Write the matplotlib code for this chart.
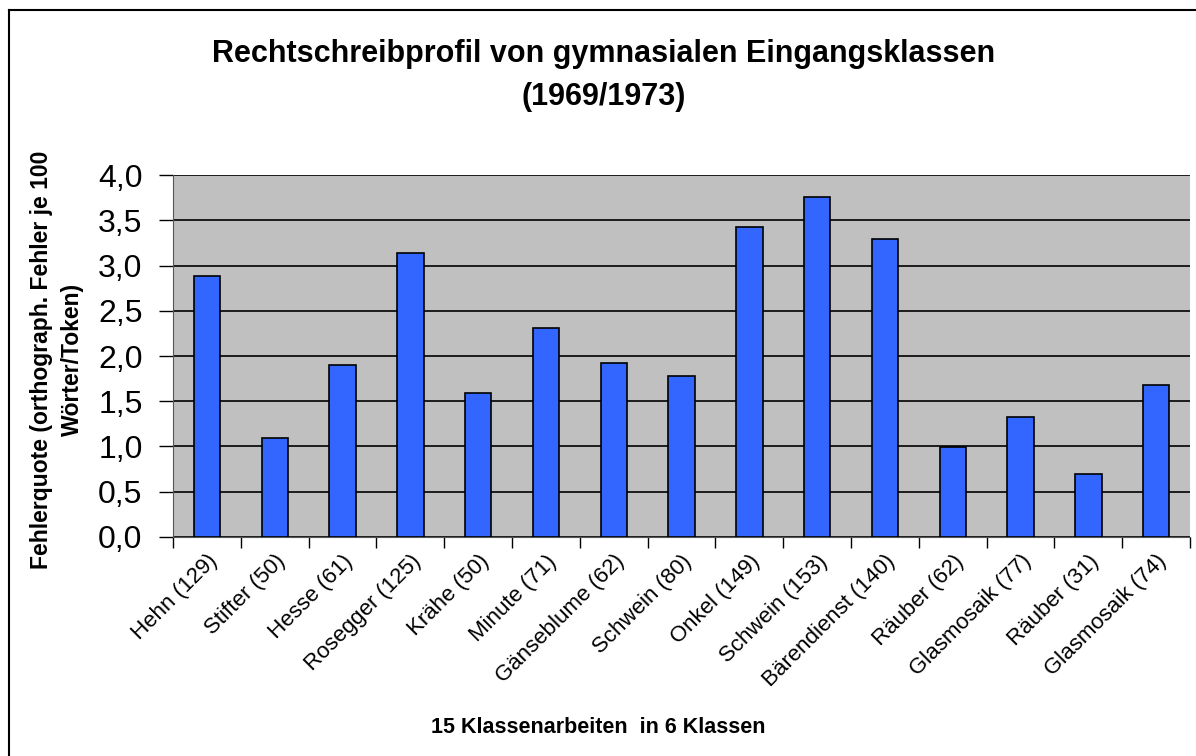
import matplotlib
matplotlib.use('Agg')
import matplotlib.pyplot as plt
from matplotlib.ticker import FuncFormatter, MultipleLocator
from matplotlib.lines import Line2D

plt.rcParams['font.family'] = ['Liberation Sans', 'DejaVu Sans']

# Daten
texte = ['Hehn (129)', 'Stifter (50)', 'Hesse (61)', 'Rosegger (125)', 'Krähe (50)',
         'Minute (71)', 'Gänseblume (62)', 'Schwein (80)', 'Onkel (149)', 'Schwein (153)',
         'Bärendienst (140)', 'Räuber (62)', 'Glasmosaik (77)', 'Räuber (31)', 'Glasmosaik (74)']
fehlerquote = [2.88, 1.09, 1.90, 3.14, 1.59, 2.31, 1.92, 1.78, 3.43, 3.76,
               3.29, 0.99, 1.33, 0.70, 1.68]

fig = plt.figure(figsize=(11.96, 7.56), dpi=100)
ax = fig.add_axes([0.1447, 0.2897, 0.8503, 0.4788])

x = range(len(texte))
ax.bar(x, fehlerquote, width=0.39, color='#3366FF', edgecolor='black', linewidth=1.2, zorder=3)

ax.set_facecolor('#C0C0C0')
ax.set_xlim(-0.5, len(texte) - 0.5)
ax.set_ylim(0, 4.0)
ax.yaxis.set_major_locator(MultipleLocator(0.5))
ax.yaxis.set_major_formatter(FuncFormatter(lambda v, p: f'{v:.1f}'.replace('.', ',')))
ax.grid(axis='y', color='black', linewidth=1.2, zorder=1)

# x-Ticks zwischen den Kategorien, Labels mittig
ax.set_xticks([i - 0.5 for i in range(len(texte) + 1)])
ax.set_xticklabels([])
ax.set_xticks(list(x), minor=True)
ax.set_xticklabels(texte, minor=True, rotation=45, ha='right', rotation_mode='anchor', fontsize=16)
ax.tick_params(axis='x', which='minor', length=0, pad=10)
ax.tick_params(axis='x', which='major', length=8, width=1, direction='out')
ax.tick_params(axis='y', length=10, width=1, direction='out', labelsize=23, pad=12)

for s in ['top', 'right']:
    ax.spines[s].set_visible(False)
ax.spines['left'].set_color('#555555')
ax.spines['bottom'].set_color('#555555')

ax.set_ylabel('Fehlerquote (orthograph. Fehler je 100\nWörter/Token)', fontsize=16.5,
              fontweight='bold', linespacing=1.45)
ax.yaxis.set_label_coords(-0.0875, 0.49)
fig.text(0.5, 0.038, '15 Klassenarbeiten  in 6 Klassen', ha='center', va='center',
         fontsize=15.5, fontweight='bold')
fig.text(0.505, 0.9, 'Rechtschreibprofil von gymnasialen Eingangsklassen\n(1969/1973)',
         ha='center', va='center', fontsize=22, fontweight='bold', linespacing=1.55)

# Rahmen (nur oben und links sichtbar)
fig.lines.append(Line2D([9 / 1196, 1], [1 - 10 / 756, 1 - 10 / 756], transform=fig.transFigure,
                        color='black', linewidth=1.5))
fig.lines.append(Line2D([9 / 1196, 9 / 1196], [0, 1 - 10 / 756], transform=fig.transFigure,
                        color='black', linewidth=1.5))

plt.savefig('out.png', dpi=100)
